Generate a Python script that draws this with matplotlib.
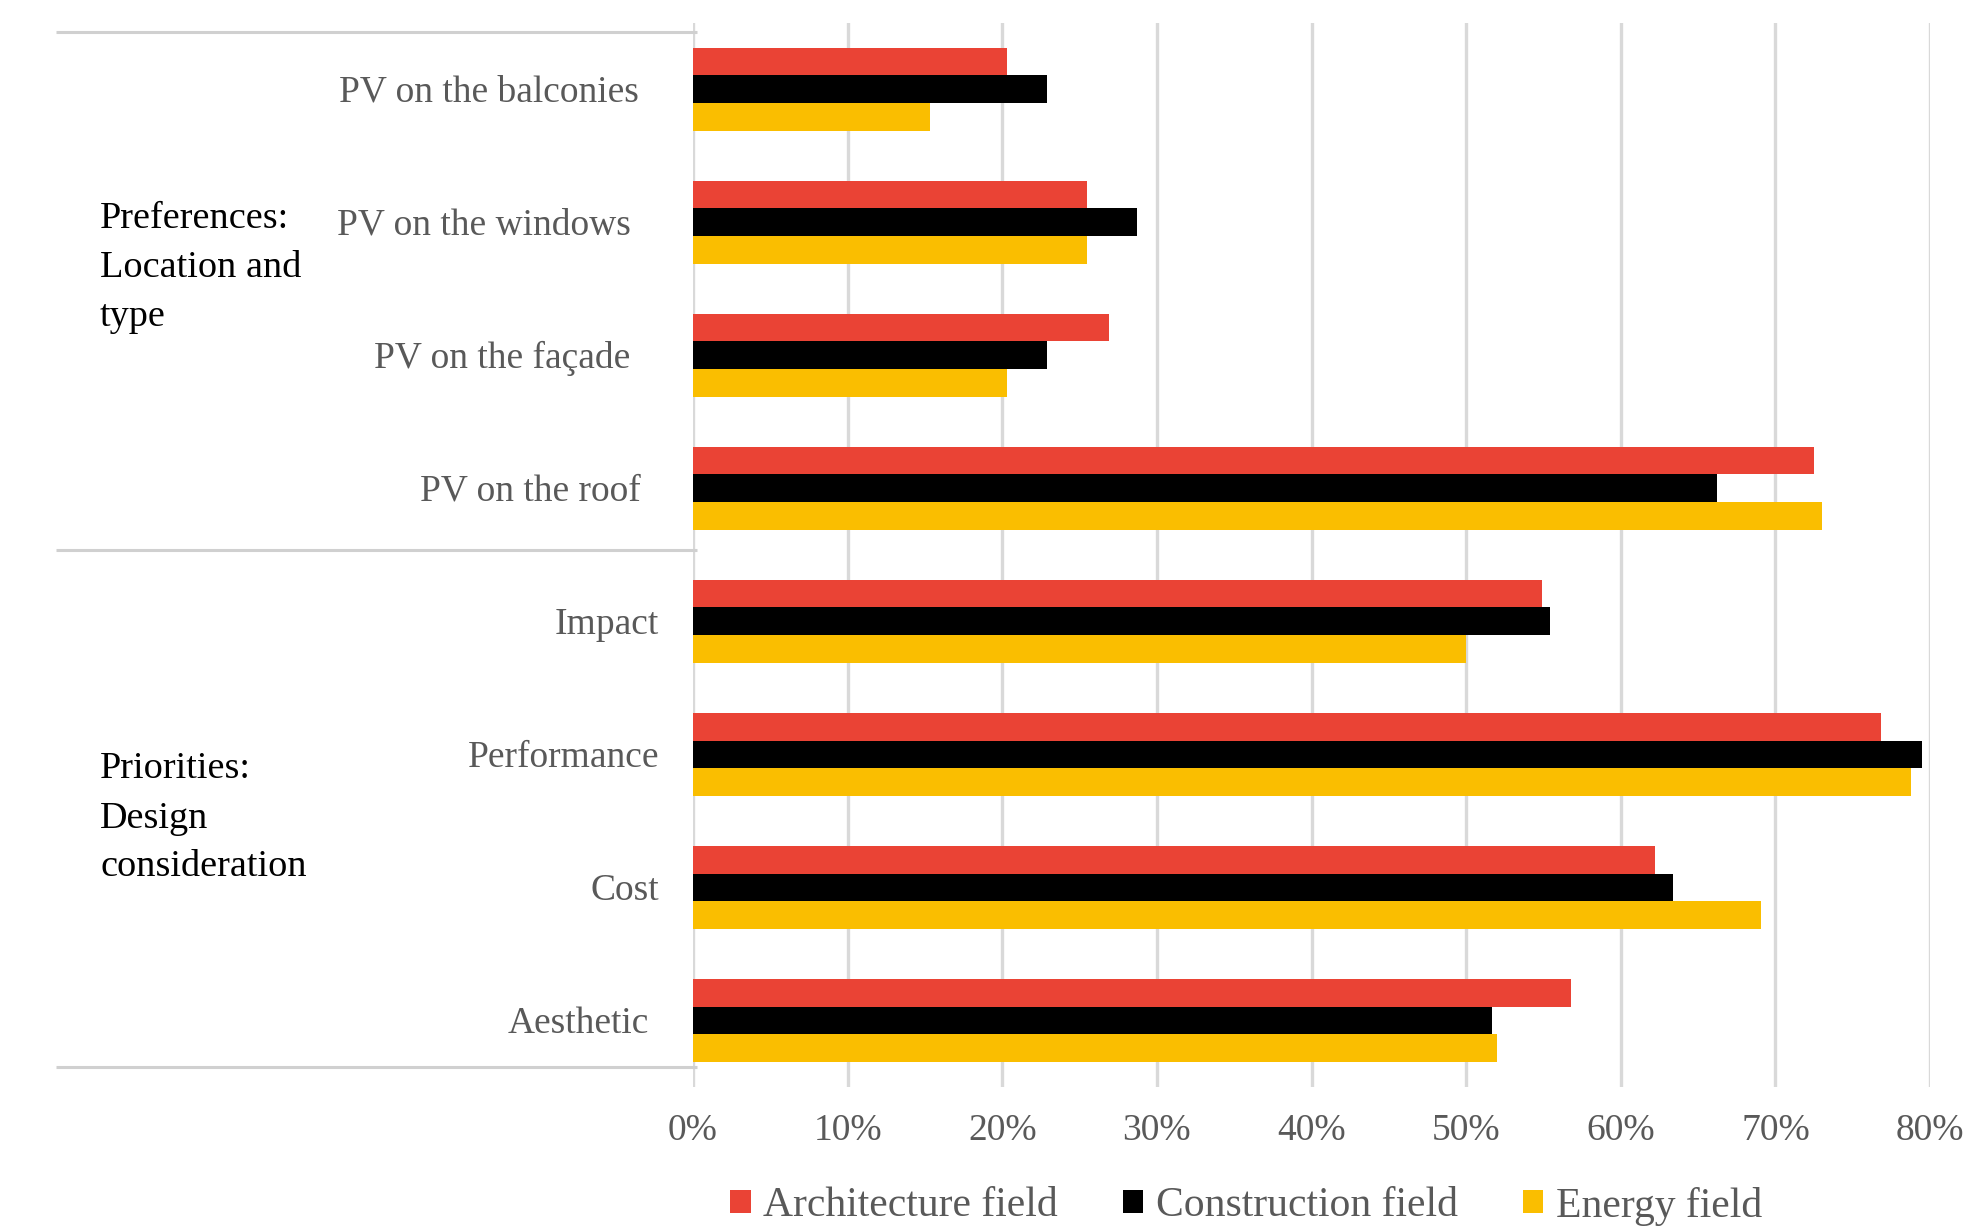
import numpy as np
import matplotlib
matplotlib.use("Agg")
import matplotlib.pyplot as plt
from matplotlib.transforms import blended_transform_factory
from matplotlib.patches import Patch

# ---- data -------------------------------------------------------------
categories = ["PV on the balconies", "PV on the windows", "PV on the façade",
              "PV on the roof", "Impact", "Performance", "Cost", "Aesthetic"]
architecture = [20.3, 25.5, 26.9, 72.5, 54.9, 76.8, 62.2, 56.8]
construction = [22.9, 28.7, 22.9, 66.2, 55.4, 79.5, 63.4, 51.7]
energy = [15.3, 25.5, 20.3, 73.0, 50.0, 78.8, 69.1, 52.0]
series_names = ["Architecture field", "Construction field", "Energy field"]
group_labels = [["Preferences:", "Location and", "type"],
                ["Priorities:", "Design", "consideration"]]
x_ticks = list(range(0, 81, 10))

# ---- layout (pixels) ----------------------------------------------------
W, H = 1984, 1227
ax_left, ax_right, ax_top, ax_bottom = 693, 1930, 22.7, 1087
label_right_px = [639, 631, 630, 641, 659, 659, 659, 649]
label_dy = 0.022
group_line_y = [-0.43, 3.46, 7.35]
group_text_x = 100
group_text_baseline = [[228, 277, 326], [778.5, 827.5, 876.5]]

colors = ["#EA4335", "#000000", "#FABE00"]
grid_col = "#D9D9D9"
text_gray = "#595959"
plt.rcParams["font.family"] = ["Liberation Serif", "DejaVu Serif"]

fig = plt.figure(figsize=(W / 100, H / 100), dpi=100)
ax = fig.add_axes([ax_left / W, 1 - ax_bottom / H,
                   (ax_right - ax_left) / W, (ax_bottom - ax_top) / H])

y = np.arange(len(categories))
h = 0.209
for k, (vals, col) in enumerate(zip([architecture, construction, energy], colors)):
    ax.barh(y + (k - 1) * h, vals, height=h, color=col, zorder=3)

ax.set_xlim(0, 80)
ax.set_ylim(len(categories) - 0.5, -0.5)
ax.set_xticks(x_ticks)
ax.set_xticklabels([f"{t}%" for t in x_ticks])
ax.set_yticks([])
ax.grid(axis="x", color=grid_col, linewidth=2.4, zorder=0)
ax.set_axisbelow(True)
for s in ax.spines.values():
    s.set_visible(False)
ax.tick_params(axis="x", length=0, pad=19, labelsize=27, labelcolor=text_gray)

# category labels
trans = blended_transform_factory(ax.transAxes, ax.transData)
span = ax_right - ax_left
for yi, lab, rx in zip(y, categories, label_right_px):
    ax.text((rx - ax_left) / span, yi + label_dy, lab, transform=trans,
            ha="right", va="center", fontsize=27, color=text_gray)

# group separator lines
for gy in group_line_y:
    ax.plot([(56 - ax_left) / span, (697 - ax_left) / span], [gy, gy],
            transform=trans, color="#D0D0D0", linewidth=2.2, clip_on=False,
            solid_capstyle="butt", zorder=1)

# group labels
for lines, bases in zip(group_labels, group_text_baseline):
    for line, b in zip(lines, bases):
        fig.text(group_text_x / W, 1 - b / H, line, ha="left", va="baseline",
                 fontsize=27.5, color="#000000")

# legend
handles = [Patch(facecolor=c, edgecolor="none") for c in colors]
fig.legend(handles, series_names, loc="center", ncol=3,
           bbox_to_anchor=(1246 / W, 1 - 1206 / H), frameon=False,
           fontsize=30, labelcolor=text_gray, handlelength=0.5,
           handleheight=0.45, handletextpad=0.3, columnspacing=1.55,
           borderpad=0, borderaxespad=0)

fig.savefig("out.png", dpi=100, facecolor="white")
